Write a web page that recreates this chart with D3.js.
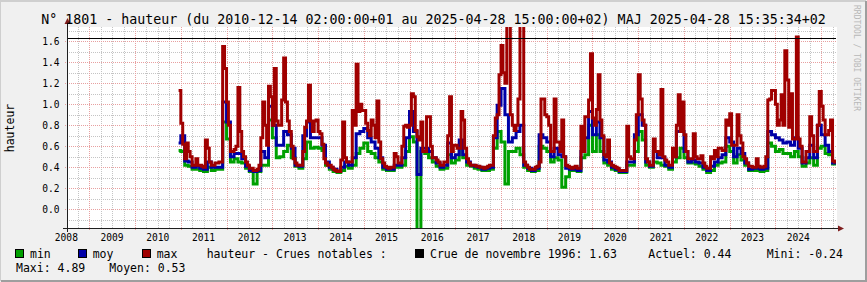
<!DOCTYPE html>
<html lang="fr">
<head>
  <meta charset="UTF-8">
  <title>hauteur 1801</title>
  <script src="https://cdn.jsdelivr.net/npm/d3@7"></script>
  <style>
    html, body { margin: 0; padding: 0; background: #f0f0f0; }
    svg { display: block; }
    text { font-family: "DejaVu Sans Mono", monospace; fill: #000; }
  </style>
</head>
<body>
<svg id="chart"></svg>
<script>
  const startDate = new Date(2010, 11, 14, 2);
  const endDate = new Date(2025, 3, 28, 15);

  // min / moy : one value per month, 2010-12 .. 2025-04
  const months = d3.timeMonth.range(new Date(2010, 11, 1), new Date(2025, 4, 1));
  months[0] = startDate;
  // max : one value per half month (1st and 16th), 2010-12-14 .. 2025-04
  const halfMonths = [startDate].concat(
    d3.timeMonth.range(new Date(2011, 0, 1), new Date(2025, 4, 1))
      .flatMap(m => [m, new Date(m.getFullYear(), m.getMonth(), 16)])
  );

  const hMax = [
    1.13,
    0.82, 0.62, 0.48, 0.63, 0.55, 0.50, 0.42, 0.42, 0.48, 0.42, 0.42, 0.41,  // 2011
    0.40, 0.66, 0.58, 0.45, 0.42, 0.42, 0.44, 0.44, 0.45, 0.45, 1.55, 1.34,
    1.02, 0.80, 0.55, 0.55, 0.57, 0.60, 1.16, 0.74, 0.55, 0.50, 0.45, 0.42,  // 2012
    0.39, 0.39, 0.37, 0.37, 0.38, 0.42, 0.68, 1.02, 0.80, 0.61, 1.17, 1.07,
    0.80, 1.34, 0.84, 0.80, 0.80, 1.04, 1.44, 1.02, 0.84, 0.74, 0.60, 0.48,  // 2013
    0.44, 0.42, 0.42, 0.42, 0.55, 0.78, 0.84, 1.18, 0.84, 0.74, 0.84, 0.85,
    0.74, 0.72, 0.62, 0.48, 0.44, 0.42, 0.42, 0.40, 0.38, 0.37, 0.36, 0.36,  // 2014
    0.47, 0.83, 0.49, 0.45, 0.45, 0.45, 0.94, 0.80, 1.38, 0.93, 1.00, 0.94,
    0.94, 0.82, 0.75, 0.70, 0.85, 0.80, 0.68, 1.03, 0.64, 0.48, 0.44, 0.41,  // 2015
    0.40, 0.39, 0.40, 0.40, 0.53, 0.50, 0.44, 0.44, 0.60, 0.79, 0.80, 0.78,
    0.80, 1.10, 1.07, 0.75, 0.69, 0.66, 0.83, 0.55, 0.55, 0.88, 0.88, 0.60,  // 2016
    0.49, 0.49, 0.47, 0.45, 0.42, 0.42, 0.45, 0.45, 0.70, 1.07, 0.55, 0.61,
    0.61, 0.58, 0.58, 0.93, 0.85, 0.58, 0.48, 0.44, 0.42, 0.42, 0.42, 0.41,  // 2017
    0.41, 0.40, 0.40, 0.39, 0.40, 0.41, 0.42, 0.42, 0.70, 0.87, 0.90, 1.28,
    1.56, 1.30, 1.20, 1.90, 1.90, 0.90, 0.80, 0.75, 0.80, 1.05, 1.90, 1.90,  // 2018
    0.45, 0.42, 0.40, 0.38, 0.38, 0.38, 0.40, 0.41, 0.45, 1.05, 1.05, 0.90,
    0.88, 0.80, 0.55, 0.55, 1.05, 0.64, 0.64, 0.55, 0.85, 0.50, 0.42, 0.41,  // 2019
    0.40, 0.39, 0.40, 0.41, 0.39, 0.39, 0.79, 0.55, 0.88, 0.88, 1.04, 1.48,
    0.87, 0.80, 0.95, 1.28, 0.85, 0.70, 0.52, 0.50, 0.66, 0.44, 0.42, 0.41,  // 2020
    0.40, 0.39, 0.37, 0.37, 0.37, 0.37, 0.79, 0.50, 0.48, 0.48, 0.66, 0.90,
    1.28, 1.05, 0.85, 0.80, 0.48, 0.45, 0.42, 0.42, 0.67, 0.55, 0.55, 0.52,  // 2021
    1.14, 0.50, 0.47, 0.45, 0.42, 0.42, 0.58, 0.50, 0.80, 1.09, 0.74, 1.02,
    0.71, 0.55, 0.48, 0.48, 0.48, 0.72, 0.50, 0.48, 0.48, 0.51, 0.44, 0.41,  // 2022
    0.39, 0.39, 0.50, 0.48, 0.56, 0.50, 0.58, 0.58, 0.56, 0.56, 0.85, 0.80,
    0.91, 0.61, 0.61, 0.61, 0.90, 0.70, 0.63, 0.50, 0.48, 0.44, 0.41, 0.41,  // 2023
    0.40, 0.40, 0.48, 0.41, 0.40, 0.40, 0.41, 0.50, 1.04, 1.05, 1.13, 1.13,
    1.00, 0.80, 0.85, 1.09, 0.80, 1.51, 1.23, 0.78, 1.10, 0.67, 0.67, 1.64,  // 2024
    0.67, 0.60, 0.45, 0.45, 0.55, 0.55, 0.88, 0.70, 0.55, 0.55, 0.80, 1.12,
    0.98, 0.85, 0.71, 0.71, 0.75, 0.85, 0.46, 0.45                           // 2025
  ];

  const hMoy = [
    0.63,
    0.70, 0.46, 0.45, 0.40, 0.41, 0.39, 0.38, 0.45, 0.40, 0.40, 0.40, 1.02, // 2011
    0.83, 0.50, 0.53, 0.53, 0.48, 0.41, 0.37, 0.36, 0.37, 0.55, 0.49, 0.98,
    0.80, 0.61, 0.61, 0.74, 0.71, 0.58, 0.42, 0.41, 0.70, 0.83, 0.68, 0.68,
    0.68, 0.61, 0.45, 0.40, 0.38, 0.36, 0.40, 0.45, 0.42, 0.49, 0.72, 0.74,
    0.77, 0.68, 0.64, 0.58, 0.49, 0.40, 0.38, 0.38, 0.42, 0.42, 0.49, 0.68, // 2015
    0.93, 0.74, 0.33, 0.58, 0.58, 0.55, 0.49, 0.44, 0.40, 0.42, 0.63, 0.49,
    0.52, 0.66, 0.52, 0.45, 0.42, 0.41, 0.40, 0.38, 0.39, 0.40, 0.68, 0.99,
    1.15, 0.90, 0.64, 0.68, 0.74, 0.80, 0.42, 0.39, 0.37, 0.39, 0.71, 0.68,
    0.64, 0.50, 0.58, 0.52, 0.50, 0.39, 0.38, 0.38, 0.37, 0.55, 0.68, 0.93,
    0.71, 0.83, 0.68, 0.47, 0.45, 0.40, 0.38, 0.36, 0.36, 0.45, 0.45, 0.71, // 2020
    0.90, 0.80, 0.45, 0.41, 0.55, 0.49, 0.49, 0.42, 0.40, 0.50, 0.74, 0.74,
    0.55, 0.45, 0.47, 0.45, 0.44, 0.40, 0.37, 0.41, 0.45, 0.49, 0.52, 0.68,
    0.64, 0.50, 0.58, 0.53, 0.44, 0.38, 0.39, 0.39, 0.38, 0.39, 0.74, 0.71,
    0.68, 0.66, 0.63, 0.64, 0.61, 0.68, 0.58, 0.44, 0.49, 0.61, 0.49, 0.80,
    0.71, 0.61, 0.55, 0.44
  ];

  const hMin = [
    0.56,
    0.55, 0.42, 0.41, 0.38, 0.38, 0.37, 0.36, 0.40, 0.37, 0.38, 0.38, 0.83, // 2011
    0.67, 0.45, 0.48, 0.45, 0.44, 0.39, 0.36, 0.24, 0.36, 0.42, 0.42, 0.85,
    0.68, 0.49, 0.50, 0.55, 0.61, 0.49, 0.41, 0.39, 0.48, 0.64, 0.58, 0.59,
    0.58, 0.56, 0.42, 0.38, 0.36, 0.35, 0.37, 0.41, 0.39, 0.42, 0.53, 0.58,
    0.63, 0.55, 0.53, 0.49, 0.45, 0.38, 0.37, 0.37, 0.40, 0.40, 0.42, 0.55, // 2015
    0.69, 0.64, -0.24, 0.55, 0.53, 0.49, 0.45, 0.41, 0.38, 0.39, 0.52, 0.44,
    0.47, 0.60, 0.49, 0.42, 0.41, 0.39, 0.38, 0.37, 0.37, 0.38, 0.58, 0.74,
    0.64, 0.24, 0.55, 0.55, 0.58, 0.52, 0.40, 0.37, 0.36, 0.37, 0.60, 0.58,
    0.55, 0.45, 0.49, 0.47, 0.21, 0.31, 0.37, 0.37, 0.36, 0.49, 0.52, 0.80,
    0.55, 0.71, 0.55, 0.44, 0.42, 0.38, 0.37, 0.35, 0.35, 0.42, 0.42, 0.55, // 2020
    0.74, 0.66, 0.42, 0.40, 0.45, 0.44, 0.42, 0.41, 0.38, 0.45, 0.49, 0.58,
    0.49, 0.44, 0.44, 0.43, 0.41, 0.38, 0.35, 0.37, 0.42, 0.44, 0.45, 0.60,
    0.55, 0.44, 0.52, 0.47, 0.42, 0.37, 0.37, 0.37, 0.36, 0.37, 0.63, 0.60,
    0.55, 0.57, 0.53, 0.53, 0.50, 0.55, 0.50, 0.41, 0.44, 0.49, 0.42, 0.58,
    0.60, 0.53, 0.52, 0.43
  ];

  const crue1996 = 1.63;
  const yTicks = [0.0, 0.2, 0.4, 0.6, 0.8, 1.0, 1.2, 1.4, 1.6];
  const yearLabels = d3.range(2008, 2025);

  const series = [
    {name: 'min', dates: months, values: hMin, color: '#00a000'},
    {name: 'moy', dates: months, values: hMoy, color: '#0000a8'},
    {name: 'max', dates: halfMonths, values: hMax, color: '#a00000'}
  ];

  const W = 867, H = 282;
  const pL = 67, pR = 837, pT = 27, pB = 228;

  const svg = d3.select('#chart').attr('width', W).attr('height', H);

  // frame
  svg.append('rect').attr('width', W).attr('height', H).attr('fill', '#f0f0f0');
  svg.append('path').attr('d', `M0,${H - 1} V1 H${W - 1}`)
    .attr('stroke', '#cfcfcf').attr('stroke-width', 2).attr('fill', 'none');
  svg.append('path').attr('d', `M1,${H - 1} H${W - 1} V1`)
    .attr('stroke', '#9e9e9e').attr('stroke-width', 2).attr('fill', 'none');

  svg.append('rect')
    .attr('x', pL).attr('y', pT)
    .attr('width', pR - pL).attr('height', pB - pT)
    .attr('fill', '#fff');

  const x = d3.scaleTime()
    .domain([new Date(2008, 6, 6), endDate])
    .range([pL, pR - 1]);
  const y = d3.scaleLinear()
    .domain([-0.18, 1.735])
    .range([pB + 0.2, pT]);

  const px = v => Math.round(v) + 0.5;

  // grid
  const grid = svg.append('g');
  const minorY = d3.range(-1, 18).map(i => i / 10);
  grid.selectAll('.hmin').data(minorY.filter(v => Math.round(v * 10) % 2 !== 0))
    .join('line')
    .attr('x1', pL).attr('x2', pR)
    .attr('y1', d => px(y(d))).attr('y2', d => px(y(d)))
    .attr('stroke', '#c4c4c4').attr('stroke-dasharray', '1,1');
  const quarters = d3.timeMonth.every(3).range(x.domain()[0], endDate)
    .filter(d => d.getMonth() !== 0);
  grid.selectAll('.vmin').data(quarters)
    .join('line')
    .attr('x1', d => px(x(d))).attr('x2', d => px(x(d)))
    .attr('y1', pT).attr('y2', pB)
    .attr('stroke', '#c4c4c4').attr('stroke-dasharray', '1,1');
  grid.selectAll('.hmaj').data(yTicks)
    .join('line')
    .attr('x1', pL - 2).attr('x2', pR)
    .attr('y1', d => px(y(d))).attr('y2', d => px(y(d)))
    .attr('stroke', '#e8a0a0').attr('stroke-dasharray', '1,1');
  grid.selectAll('.vmaj').data(d3.timeYear.range(x.domain()[0], endDate))
    .join('line')
    .attr('x1', d => px(x(d))).attr('x2', d => px(x(d)))
    .attr('y1', pT).attr('y2', pB + 3)
    .attr('stroke', '#e8a0a0').attr('stroke-dasharray', '1,1');

  // series
  svg.append('clipPath').attr('id', 'plot')
    .append('rect')
    .attr('x', pL).attr('y', pT)
    .attr('width', pR - pL).attr('height', pB - pT);

  const line = d3.line()
    .x(d => x(d[0]))
    .y(d => y(d[1]))
    .curve(d3.curveStepAfter);

  svg.append('g').attr('clip-path', 'url(#plot)')
    .selectAll('path')
    .data(series)
    .join('path')
    .attr('d', s => {
      const pts = s.dates.map((m, i) => [m, s.values[i]]);
      pts.push([endDate, s.values[s.values.length - 1]]);
      return line(pts);
    })
    .attr('fill', 'none')
    .attr('stroke', s => s.color)
    .attr('stroke-width', 3);

  // hrule
  svg.append('line')
    .attr('x1', pL).attr('x2', pR - 1)
    .attr('y1', px(y(crue1996))).attr('y2', px(y(crue1996)))
    .attr('stroke', '#000');

  // axes
  svg.append('line')
    .attr('x1', pL - 4).attr('x2', pR + 1)
    .attr('y1', pB + 0.5).attr('y2', pB + 0.5)
    .attr('stroke', '#1f1f1f');
  svg.append('line')
    .attr('x1', pL + 0.5).attr('x2', pL + 0.5)
    .attr('y1', pB + 4).attr('y2', pT - 3)
    .attr('stroke', '#1f1f1f');
  svg.append('path')
    .attr('d', `M${pR + 1},${pB - 2.5} L${pR + 7},${pB + 0.5} L${pR + 1},${pB + 3.5} Z`)
    .attr('fill', '#7f1f1f');
  svg.append('path')
    .attr('d', `M${pL - 2.5},${pT - 3} L${pL + 0.5},${pT - 9} L${pL + 3.5},${pT - 3} Z`)
    .attr('fill', '#7f1f1f');

  // tick labels
  svg.append('g').selectAll('text')
    .data(yTicks)
    .join('text')
    .attr('x', 59.5)
    .attr('y', d => y(d) + 3.5)
    .attr('text-anchor', 'end')
    .style('font-size', '9.6px')
    .text(d => d.toFixed(1));

  svg.append('g').selectAll('text')
    .data(yearLabels)
    .join('text')
    .attr('x', d => x(new Date(d, 6, 1)))
    .attr('y', 240.5)
    .attr('text-anchor', 'middle')
    .style('font-size', '9.6px')
    .text(d => d);

  // titles
  svg.append('text')
    .attr('x', 433.5).attr('y', 24)
    .attr('text-anchor', 'middle')
    .style('font-size', '13.3px')
    .text('N° 1801 - hauteur (du 2010-12-14 02:00:00+01 au 2025-04-28 15:00:00+02) MAJ 2025-04-28 15:35:34+02');

  svg.append('text')
    .attr('transform', 'translate(14,128) rotate(-90)')
    .attr('text-anchor', 'middle')
    .style('font-size', '11.5px')
    .text('hauteur');

  svg.append('text')
    .attr('transform', 'translate(854,5) rotate(90)')
    .style('font-size', '8px')
    .style('fill', '#b8b8b8')
    .text('RRDTOOL / TOBI OETIKER');

  // legend
  const legend = svg.append('g').style('font-size', '11.5px');
  const boxes = [
    {x: 15.5, color: '#00a000'}, {x: 78.5, color: '#0000a8'},
    {x: 142.5, color: '#a00000'}, {x: 415.5, color: '#000'}
  ];
  legend.selectAll('rect').data(boxes)
    .join('rect')
    .attr('x', d => d.x).attr('y', 249.5)
    .attr('width', 8).attr('height', 8)
    .attr('fill', d => d.color)
    .attr('stroke', '#000');
  const texts = [
    {x: 30, y: 257.7, t: 'min'},
    {x: 92.7, y: 257.7, t: 'moy'},
    {x: 156.7, y: 257.7, t: 'max'},
    {x: 206.7, y: 257.7, t: 'hauteur - Crues notables :'},
    {x: 430, y: 257.7, t: 'Crue de novembre 1996: 1.63'},
    {x: 648.3, y: 257.7, t: 'Actuel: 0.44'},
    {x: 766.7, y: 257.7, t: 'Mini: -0.24'},
    {x: 16, y: 271.7, t: 'Maxi: 4.89'},
    {x: 109.3, y: 271.7, t: 'Moyen: 0.53'}
  ];
  legend.selectAll('text').data(texts)
    .join('text')
    .attr('x', d => d.x).attr('y', d => d.y)
    .text(d => d.t);
</script>
</body>
</html>
